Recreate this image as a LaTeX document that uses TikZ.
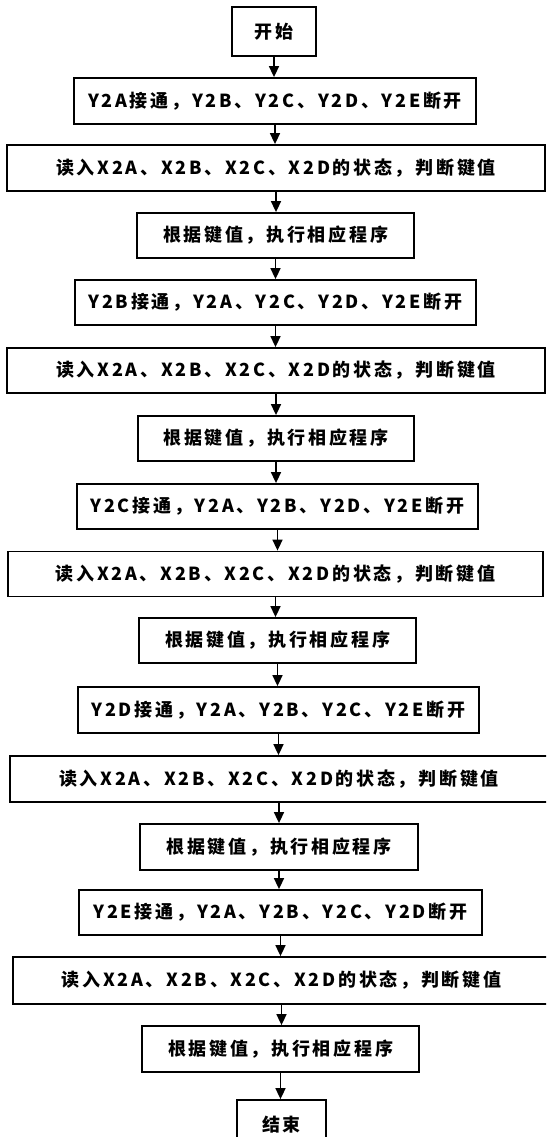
\documentclass[tikz,border=0pt]{standalone}
\usepackage{fontspec}
\setmainfont{Noto Sans CJK SC}[LetterSpace=15]
\usetikzlibrary{arrows.meta}
\begin{document}
\begin{tikzpicture}[x=1pt,y=-1pt,
  box/.style={draw,line width=1.8pt,rectangle,inner sep=0pt,
    font=\fontsize{18}{20}\selectfont\bfseries},
  flow/.style={line width=1.6pt,-{Triangle[width=10pt,length=11pt]}}]
\useasboundingbox (0,0) rectangle (546,1137);
\clip (0,0) rectangle (546,1137);
\fill[white] (0,0) rectangle (546,1137);
\node[box,minimum width=84pt,minimum height=49pt] (n1) at (274,31.5) {开始};
\node[box,minimum width=402pt,minimum height=46pt] (n2) at (275,101) {Y2A接通，Y2B、Y2C、Y2D、Y2E断开};
\node[box,minimum width=538pt,minimum height=46pt] (n3) at (276,168) {读入X2A、X2B、X2C、X2D的状态，判断键值};
\node[box,minimum width=277pt,minimum height=45pt] (n4) at (275.5,235.5) {根据键值，执行相应程序};
\node[box,minimum width=401pt,minimum height=45pt] (n5) at (275.5,302.5) {Y2B接通，Y2A、Y2C、Y2D、Y2E断开};
\node[box,minimum width=538pt,minimum height=45pt] (n6) at (276,370.5) {读入X2A、X2B、X2C、X2D的状态，判断键值};
\node[box,minimum width=276pt,minimum height=45pt] (n7) at (276,438.5) {根据键值，执行相应程序};
\node[box,minimum width=401pt,minimum height=45pt] (n8) at (277.5,506.5) {Y2C接通，Y2A、Y2B、Y2D、Y2E断开};
\node[box,minimum width=535pt,minimum height=45pt] (n9) at (275.5,574) {读入X2A、X2B、X2C、X2D的状态，判断键值};
\node[box,minimum width=277pt,minimum height=45pt] (n10) at (277.5,640.5) {根据键值，执行相应程序};
\node[box,minimum width=401pt,minimum height=46pt] (n11) at (278.5,710) {Y2D接通，Y2A、Y2B、Y2C、Y2E断开};
\node[box,minimum width=538pt,minimum height=46pt] (n12) at (279,779) {读入X2A、X2B、X2C、X2D的状态，判断键值};
\node[box,minimum width=278pt,minimum height=46pt] (n13) at (279,847) {根据键值，执行相应程序};
\node[box,minimum width=403pt,minimum height=45pt] (n14) at (280.5,912.5) {Y2E接通，Y2A、Y2B、Y2C、Y2D断开};
\node[box,minimum width=537pt,minimum height=47pt] (n15) at (281.5,980.5) {读入X2A、X2B、X2C、X2D的状态，判断键值};
\node[box,minimum width=277pt,minimum height=46pt] (n16) at (280.5,1049) {根据键值，执行相应程序};
\node[box,minimum width=89pt,minimum height=49pt] (n17) at (281.5,1124.5) {结束};
\foreach \a/\b in {n1/n2,n2/n3,n3/n4,n4/n5,n5/n6,n6/n7,n7/n8,n8/n9,n9/n10,n10/n11,n11/n12,n12/n13,n13/n14,n14/n15,n15/n16,n16/n17}
  \draw[flow] (\a.south) -- (\a.south |- \b.north);
\end{tikzpicture}
\end{document}
